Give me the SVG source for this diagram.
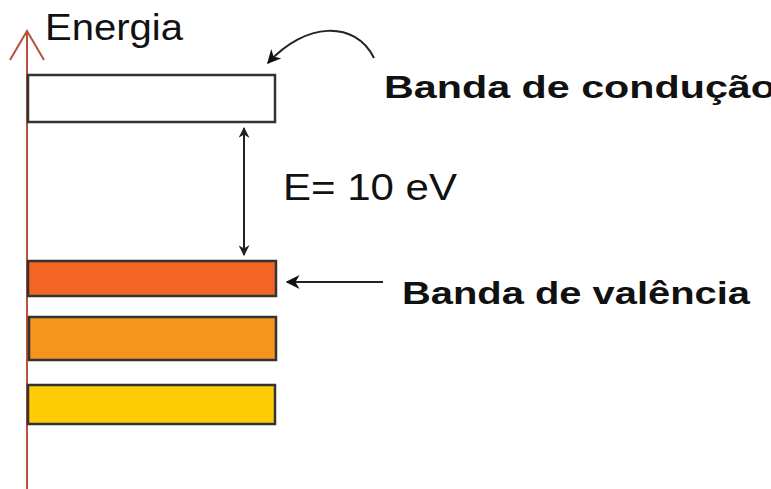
<svg xmlns="http://www.w3.org/2000/svg" width="771" height="489" viewBox="0 0 771 489">
<style>
.band{stroke:#333;stroke-width:2.5}
.lbl{font-family:"Liberation Sans",Arial,sans-serif;fill:#111}
.b{font-weight:bold}
.conn{stroke:#222;stroke-width:2;fill:none}
</style>
<defs>
<marker id="ah" viewBox="0 0 10 10" refX="9" refY="5" markerWidth="11" markerHeight="11" markerUnits="userSpaceOnUse" orient="auto-start-reverse"><path d="M0,0 L10,5 L0,10 L3,5 Z" fill="#222"/></marker>
<marker id="ahb" viewBox="0 0 10 10" refX="9" refY="5" markerWidth="14" markerHeight="14" markerUnits="userSpaceOnUse" orient="auto-start-reverse"><path d="M0,0 L10,5 L0,10 L3,5 Z" fill="#111"/></marker>
</defs>
<rect width="771" height="489" fill="#fff"/>
<g id="axis">
<line x1="27" y1="31" x2="27" y2="489" stroke="#b5533c" stroke-width="2"/>
<polyline points="10,60 27,31 44,60" fill="none" stroke="#b5533c" stroke-width="2"/>
<text class="lbl" x="45" y="40" font-size="37" textLength="138" lengthAdjust="spacingAndGlyphs">Energia</text>
</g>
<g id="conduction">
<rect class="band" x="28" y="75" width="247" height="47" fill="#fff"/>
</g>
<g id="valence">
<rect class="band" x="28" y="261" width="248" height="35" fill="#f26522"/>
</g>
<g id="band2">
<rect class="band" x="29" y="317" width="247" height="43" fill="#f7941d"/>
</g>
<g id="band3">
<rect class="band" x="28" y="385" width="247" height="39" fill="#ffcc05"/>
</g>
<g id="labels">
<text class="lbl" x="283" y="200" font-size="37" textLength="174" lengthAdjust="spacingAndGlyphs">E= 10 eV</text>
<text class="lbl b" x="384" y="98" font-size="32" textLength="392" lengthAdjust="spacingAndGlyphs">Banda de condução</text>
<text class="lbl b" x="402" y="304" font-size="32" textLength="348" lengthAdjust="spacingAndGlyphs">Banda de valência</text>
</g>
<g id="connectors">
<line class="conn" x1="244" y1="128" x2="244" y2="255" marker-start="url(#ah)" marker-end="url(#ah)"/>
<line class="conn" x1="383" y1="282" x2="287" y2="282" marker-end="url(#ahb)"/>
<path class="conn" d="M374,58 C355,20 305,22 268,63" marker-end="url(#ahb)"/>
</g>
</svg>
